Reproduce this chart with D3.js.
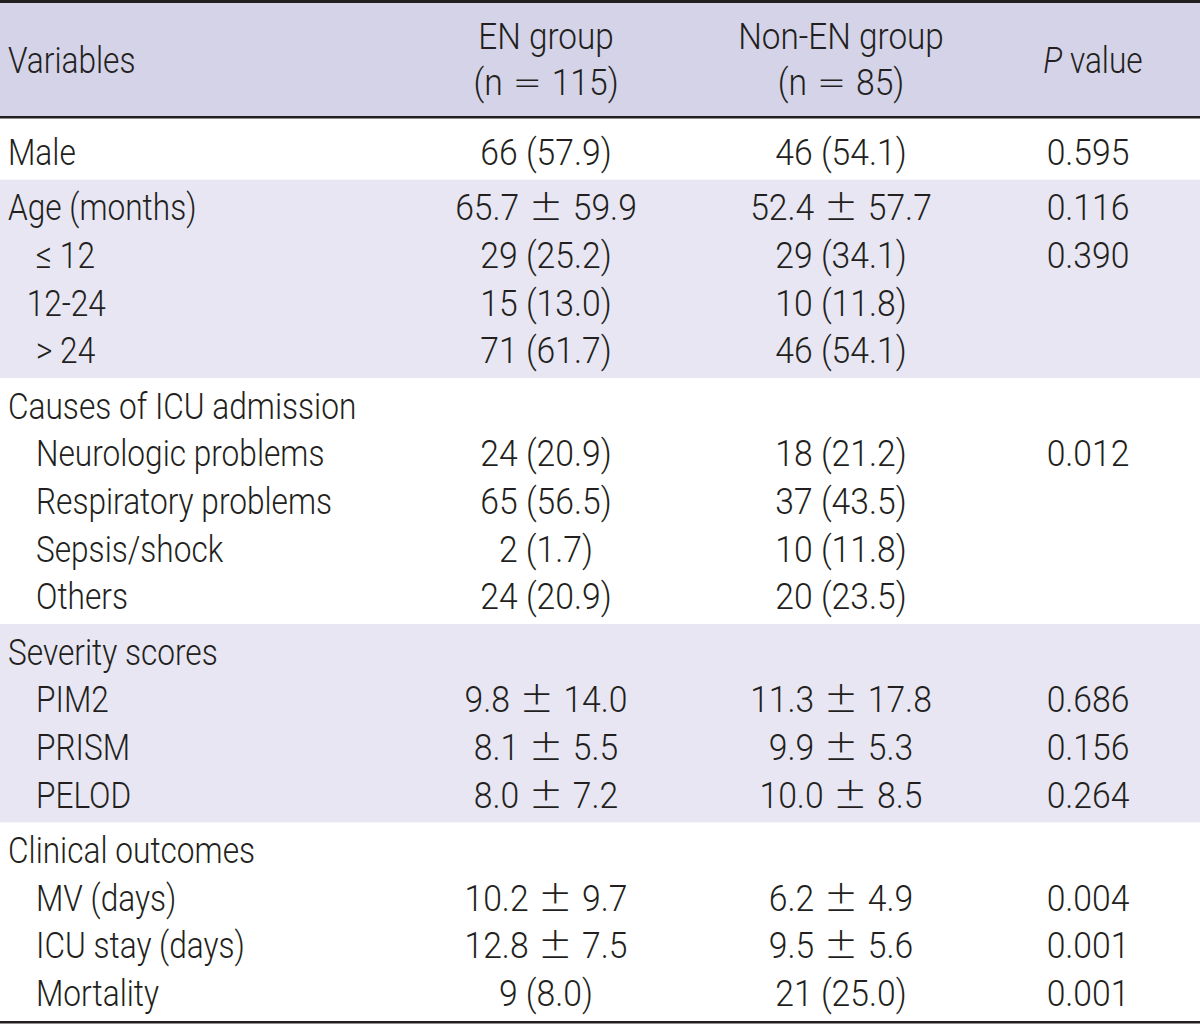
<!DOCTYPE html>
<html>
<head>
<meta charset="utf-8">
<script src="https://cdn.jsdelivr.net/npm/d3@7"></script>
<style>
  html, body { margin: 0; padding: 0; background: #ffffff; }
  svg { display: block; }
  text { font-family: "Roboto", "Liberation Sans", sans-serif; font-weight: 300; fill: #231f20; }
  tspan.op { font-family: "DejaVu Sans", sans-serif; font-weight: 200; }
</style>
</head>
<body>
<svg id="chart" width="1200" height="1024"></svg>
<script>
// ---- data ----
const headerCols = ["Variables", "EN group", "Non-EN group", "P value"];
const headerSub = ["", "(n = 115)", "(n = 85)", ""];
const groups = ["Male", "Age", "Causes", "Severity", "Clinical"];
const groupShaded = [false, true, false, true, false];
// row labels (leading spaces = indentation level)
const rowLabels = [
  "Male",
  "Age (months)", "   \u2264 12", "  12-24", "   > 24",
  "Causes of ICU admission", "   Neurologic problems", "   Respiratory problems", "   Sepsis/shock", "   Others",
  "Severity scores", "   PIM2", "   PRISM", "   PELOD",
  "Clinical outcomes", "   MV (days)", "   ICU stay (days)", "   Mortality"
];
const rowGroup = [0, 1,1,1,1, 2,2,2,2,2, 3,3,3,3, 4,4,4,4];
const enValues = [
  "66 (57.9)",
  "65.7 \u00b1 59.9", "29 (25.2)", "15 (13.0)", "71 (61.7)",
  "", "24 (20.9)", "65 (56.5)", "2 (1.7)", "24 (20.9)",
  "", "9.8 \u00b1 14.0", "8.1 \u00b1 5.5", "8.0 \u00b1 7.2",
  "", "10.2 \u00b1 9.7", "12.8 \u00b1 7.5", "9 (8.0)"
];
const nonEnValues = [
  "46 (54.1)",
  "52.4 \u00b1 57.7", "29 (34.1)", "10 (11.8)", "46 (54.1)",
  "", "18 (21.2)", "37 (43.5)", "10 (11.8)", "20 (23.5)",
  "", "11.3 \u00b1 17.8", "9.9 \u00b1 5.3", "10.0 \u00b1 8.5",
  "", "6.2 \u00b1 4.9", "9.5 \u00b1 5.6", "21 (25.0)"
];
const pValues = [
  "0.595",
  "0.116", "0.390", "", "",
  "", "0.012", "", "", "",
  "", "0.686", "0.156", "0.264",
  "", "0.004", "0.001", "0.001"
];

// ---- layout ----
const W = 1200;
const svg = d3.select("#chart");
const ink = "#231f20";
const fontSize = 37;
const sxLabel = 0.855;  // condensing for word labels
const sxValue = 0.91;   // condensing for numbers
const headerTop = 2, headerBottom = 117, tableBottom = 1021;

const colX = d3.scaleOrdinal().domain(headerCols).range([8, 546, 841, 1088]);
const colAnchor = d3.scaleOrdinal().domain(headerCols).range(["start", "middle", "middle", "middle"]);

const rowH = 47.6;
const padTop = 4, padBottom = 4;
const groupTops = [];
let cursor = headerBottom + 1;
const rowCenters = [];
groups.forEach((g, gi) => {
  const idx = rowGroup.map((v, i) => v === gi ? i : -1).filter(i => i >= 0);
  const extraTop = gi === 0 ? 6 : 0;
  const extraBottom = gi === groups.length - 1 ? 3 : 0;
  const top = cursor;
  idx.forEach((ri, k) => { rowCenters[ri] = top + padTop + extraTop + (k + 0.5) * rowH; });
  const h = padTop + extraTop + idx.length * rowH + padBottom + extraBottom;
  groupTops.push({ top, h, gi });
  cursor += h;
});
const yScale = d3.scaleOrdinal().domain(d3.range(rowLabels.length)).range(rowCenters);
const capOffset = 13;

function label(parent, x, y, anchor, sx) {
  return parent.append("text")
    .attr("transform", `translate(${x},${y}) scale(${sx},1)`)
    .attr("text-anchor", anchor)
    .attr("font-size", fontSize);
}
// writes text, setting the ± and = operators wide with generous gaps
function richText(t, str) {
  const parts = str.split(/ ([\u00b1=]) /);
  parts.forEach((p, k) => {
    if (k % 2 === 1) {
      const isPm = p === "\u00b1";
      const gap = isPm ? 11 : 11;
      const lift = isPm ? 0 : 0;
      t.append("tspan").attr("class", "op").attr("dx", gap).attr("dy", lift)
        .attr("font-size", isPm ? 44 : 38).text(p);
      t.append("tspan").attr("dx", gap).attr("dy", -lift).text(parts[k + 1]);
    } else if (k === 0) {
      t.append("tspan").text(p);
    }
  });
  return t;
}

// header background
svg.append("rect").attr("x", 0).attr("y", headerTop).attr("width", W).attr("height", headerBottom - headerTop)
  .attr("fill", "#d4d3e7");

// group bands
svg.selectAll("rect.band").data(groupTops.filter(d => groupShaded[d.gi])).join("rect")
  .attr("class", "band")
  .attr("x", 0).attr("y", d => d.top).attr("width", W).attr("height", d => d.h)
  .attr("fill", "#e7e6f2");

// rules
svg.append("rect").attr("x", 0).attr("y", 0).attr("width", W).attr("height", 3).attr("fill", ink);
svg.append("rect").attr("x", 0).attr("y", headerBottom - 1).attr("width", W).attr("height", 2.5).attr("fill", ink);
svg.append("rect").attr("x", 0).attr("y", tableBottom).attr("width", W).attr("height", 2.5).attr("fill", ink);

// header text
const hdr = svg.append("g");
headerCols.forEach((c, i) => {
  if (headerSub[i] !== "") {
    label(hdr, colX(c), 49, colAnchor(c), 0.9).text(c);
    richText(label(hdr, colX(c), 95, colAnchor(c), 0.91), headerSub[i]);
  } else if (c === "P value") {
    const t = label(hdr, colX(c) + 5, 73, "middle", sxLabel);
    t.append("tspan").attr("font-style", "italic").text("P");
    t.append("tspan").text(" value");
  } else {
    label(hdr, colX(c), 73, colAnchor(c), sxLabel).text(c);
  }
});

// body text
const body = svg.append("g");
const indentUnit = 9.33;
rowLabels.forEach((lab, i) => {
  const lead = lab.length - lab.trimStart().length;
  const y = yScale(i) + capOffset;
  label(body, colX(headerCols[0]) + lead * indentUnit, y, "start", sxLabel).text(lab.trimStart());
  [[enValues, 1], [nonEnValues, 2], [pValues, 3]].forEach(([arr, ci]) => {
    if (arr[i]) richText(label(body, colX(headerCols[ci]), y, "middle", sxValue), arr[i]);
  });
});
</script>
</body>
</html>
